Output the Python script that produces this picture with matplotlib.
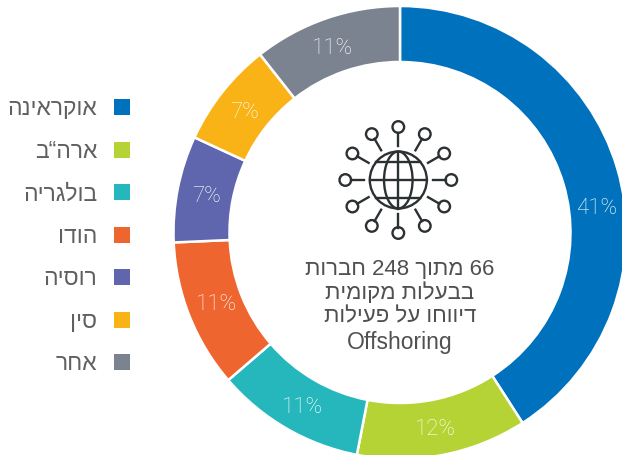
import numpy as np
import matplotlib
matplotlib.use('Agg')
import matplotlib.pyplot as plt
from matplotlib.patches import Circle, Ellipse, Rectangle

categories = ['אוקראינה', 'ארה“ב', 'בולגריה', 'הודו', 'רוסיה', 'סין', 'אחר']
# slice sizes as measured on the ring, the printed labels are rounded differently
slices = [40.9, 12.15, 10.65, 10.6, 7.6, 7.5, 10.6]
labels = [41, 12, 11, 11, 7, 7, 11]
colors = ['#0071bc', '#b5d334', '#26b7bc', '#ee652f', '#6066ae', '#fab317', '#7b8390']
center_lines = ['66 מתוך 248 חברות', 'בבעלות מקומית', 'דיווחו על פעילות', 'Offshoring']

plt.rcParams['font.family'] = ['Liberation Sans', 'DejaVu Sans']


# matplotlib does not do bidi, so hebrew goes in visual order
def visual(text):
    words = text.split(' ')[::-1]
    return ' '.join(w if w.isascii() else w[::-1] for w in words)


fig = plt.figure(figsize=(6.22, 4.56), dpi=100)

# ring, the right and bottom edge are cut by the figure like in the original
cx, cy, R = 400, 233.5, 226.5
ax = fig.add_axes([(cx - R) / 622, (456 - cy - R) / 456, 2 * R / 622, 2 * R / 456])
ax.pie(slices, colors=colors, startangle=90, counterclock=False, radius=1,
       wedgeprops={'width': 56 / R, 'edgecolor': 'white', 'linewidth': 1.8})
ax.set_xlim(-1, 1)
ax.set_ylim(-1, 1)

# overlay in pixels for the texts, legend and icon
ov = fig.add_axes([0, 0, 1, 1])
ov.set_xlim(0, 622)
ov.set_ylim(456, 0)
ov.axis('off')

# percent labels
label_x = [597, 435, 303, 216, 206, 244, 333]
label_y = [209, 430, 408, 305, 197, 113, 49]
for x, y, v in zip(label_x, label_y, labels):
    ov.text(x, y, f'{v}%', color='white', fontsize=16, ha='center', va='center',
            family='Roboto', weight='light')

# legend
legend_y = [108, 151, 193, 236, 278, 321, 363]
for name, col, y in zip(categories, colors, legend_y):
    ov.add_patch(Rectangle((114, y - 8), 16, 16, color=col, lw=0))
    ov.text(97, y + 1, visual(name), color='#606060', fontsize=16.5, ha='right', va='center')

# center text
for line, y, size in zip(center_lines, [270, 293, 317, 343], [16, 16, 16, 16.5]):
    ov.text(400, y, visual(line), color='#505050', fontsize=size, ha='center', va='center')

# globe icon
gx, gy, gr = 398.3, 181, 28.5
ic = '#2b3032'
lw = 1.7
ov.add_patch(Circle((gx, gy), gr, fill=False, ec=ic, lw=lw))
ov.add_patch(Ellipse((gx, gy), gr, 2 * gr, fill=False, ec=ic, lw=lw))
ov.plot([gx, gx], [gy - gr, gy + gr], color=ic, lw=lw)
ov.plot([gx - gr, gx + gr], [gy, gy], color=ic, lw=lw)
for dy in [-18, 18]:
    dx = np.sqrt(gr ** 2 - dy ** 2)
    ov.plot([gx - dx, gx + dx], [gy + dy, gy + dy], color=ic, lw=lw)
for deg in range(0, 360, 30):
    a = np.radians(deg)
    s, c = np.sin(a), np.cos(a)
    ov.plot([gx + 34.3 * s, gx + 47.5 * s], [gy - 34.3 * c, gy - 47.5 * c], color=ic, lw=lw)
    ov.add_patch(Circle((gx + 53 * s, gy - 53 * c), 5.8, fill=False, ec=ic, lw=lw))

fig.savefig('out.png', dpi=100)
